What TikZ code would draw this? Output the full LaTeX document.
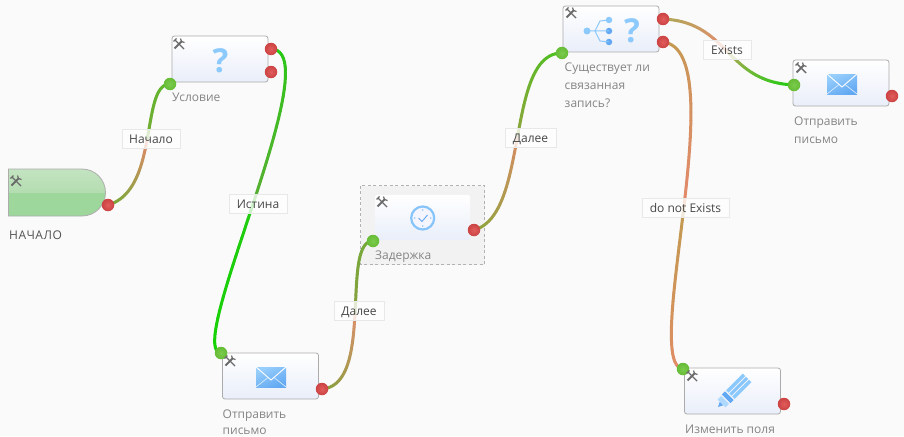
\documentclass[tikz,border=0pt]{standalone}
\usepackage{fontspec}
\setmainfont{Open Sans}
\usetikzlibrary{calc}
\pgfdeclarelayer{bgfill}
\pgfdeclarelayer{conn}
\pgfsetlayers{bgfill,conn,main}
\definecolor{pagebg}{HTML}{FAFAFA}
\definecolor{iconblue}{HTML}{8CC9FC}
\definecolor{icondeep}{HTML}{62A8F2}
\definecolor{boxlow}{HTML}{E9EEF9}
\definecolor{startlow}{HTML}{9DD79B}
\definecolor{startmid}{HTML}{B4DDB1}
\definecolor{starttop}{HTML}{D2EAD0}
\definecolor{redin}{HTML}{E25C5C}
\definecolor{redout}{HTML}{CB4343}
\definecolor{greenin}{HTML}{7ACB4C}
\definecolor{greenout}{HTML}{66BC36}
\pgfdeclareverticalshading{startgrad}{100bp}{color(0bp)=(startlow); color(50bp)=(startlow); color(50bp)=(startmid); color(100bp)=(starttop)}
\tikzset{
  taskbox/.style={draw=black!33,line width=.8pt,rounded corners=2.5pt,minimum width=96pt,minimum height=46pt,inner sep=0pt,top color=white,bottom color=boxlow},
  plainbox/.style={minimum width=95pt,minimum height=45pt,inner sep=0pt,rounded corners=1.5pt,top color=white,bottom color=boxlow},
  redport/.style={circle,minimum size=12.5pt,inner sep=0pt,inner color=redin,outer color=redout},
  greenport/.style={circle,minimum size=12.5pt,inner sep=0pt,inner color=greenin,outer color=greenout},
  caption/.style={anchor=north west,inner sep=0pt,align=left,text=black!48,font=\fontsize{12}{18}\selectfont},
  linklabel/.style={draw=black!9,line width=.8pt,fill=white,fill opacity=.78,text opacity=1,text=black!72,inner sep=0pt,minimum height=19pt,text height=10pt,text depth=1pt,font=\fontsize{12}{14}\selectfont},
  qmark/.style={text=iconblue,inner sep=0pt,font=\fontsize{33}{33}\bfseries\selectfont},
  wrench/.pic={
    \draw[black!58,line width=1.8pt] (-4.5,4.5)--(3,-3);
    \draw[black!58,line width=1.4pt] (-4,-4)--(5,5);
    \draw[black!58,line width=1.2pt] (1.5,-5.5)--(2.5,-2.5)--(5.5,-1.5);
    \draw[black!58,line width=1.2pt] (-5.5,-2.5)--(-2.5,-5.5);
  }
}
\newcommand{\gradconn}[7]{%
  \path (#1.center) .. controls #2 and #3 .. (#4.center)
    foreach \k in {0,...,48}{coordinate[pos=\k/48] (gc\k)};
  \begin{pgfonlayer}{conn}
  \foreach \k [evaluate=\k as \n using int(\k+1)] in {0,...,47}{%
    \ifnum\k<24
      \pgfmathsetmacro\mixv{100-100*\k/23}%
      \draw[line width=3pt,line cap=round,color={#6!\mixv!#5}] (gc\k)--(gc\n);
    \else
      \pgfmathsetmacro\mixv{100-100*(\k-24)/23}%
      \draw[line width=3pt,line cap=round,color={#6!\mixv!#7}] (gc\k)--(gc\n);
    \fi
  }%
  \end{pgfonlayer}%
}
\newcommand{\mailicon}[1]{%
  \begin{scope}[shift={#1}]
    \shade[left color=iconblue!90!white,right color=icondeep,shading angle=25] (-15,-10) rectangle (15,10);
    \draw[white,line width=.9pt] (-15,-10)--(0,3)--(15,-10);
    \draw[white!75!iconblue,line width=.6pt] (-15,10)--(-3,0.5) (15,10)--(3,0.5);
  \end{scope}%
}
\definecolor{cA}{HTML}{E08A68}\definecolor{cB}{HTML}{72AC35}\definecolor{cC}{HTML}{5FB82C}
\definecolor{dA}{HTML}{55B030}\definecolor{dB}{HTML}{22CC11}\definecolor{dC}{HTML}{11D400}
\definecolor{eA}{HTML}{D9906A}\definecolor{eB}{HTML}{85A03C}\definecolor{eC}{HTML}{72AC3A}
\definecolor{fA}{HTML}{D58D62}\definecolor{fB}{HTML}{8CA63C}\definecolor{fC}{HTML}{4CC01E}
\definecolor{gA}{HTML}{E88A70}\definecolor{gB}{HTML}{B0A858}\definecolor{gC}{HTML}{22CC11}
\definecolor{hA}{HTML}{E28A6C}\definecolor{hB}{HTML}{C29A50}\definecolor{hC}{HTML}{E68A6A}
\begin{document}
\begin{tikzpicture}[x=1pt,y=-1pt]
\useasboundingbox (0,0) rectangle (904,436);
\begin{pgfonlayer}{bgfill}
  \fill[pagebg] (0,0) rectangle (904,436);
  \draw[black!30,line width=.7pt,dash pattern=on 3pt off 2.5pt,fill=black!5] (360.5,185.5) rectangle (484.5,264.5);
\end{pgfonlayer}

% start shape
\path[draw=black!32,line width=.8pt,shading=startgrad]
  (8.5,169) -- (82,169) .. controls (95,169) and (105.5,179.5) .. (105.5,192.5)
  .. controls (105.5,205.5) and (95,216) .. (82,216) -- (8.5,216) -- cycle;
\node[minimum width=96pt,minimum height=46pt,inner sep=0pt] (start) at (56,192.5) {};

% boxes
\node[taskbox] (cond) at (220,59) {};
\node[taskbox] (mailA) at (270.5,376) {};
\node[plainbox] (delay) at (422.5,217.5) {};
\node[taskbox] (exist) at (611,29) {};
\node[taskbox] (mailB) at (841,83) {};
\node[taskbox] (edit) at (732.5,391) {};

% captions
\node[anchor=north west,inner sep=0pt,text=black!68,font=\fontsize{12}{18}\selectfont] (startcap) at (9,231) {Н\kern.5ptА\kern.5ptЧ\kern.5ptА\kern.5ptЛ\kern.5ptО};
\node[caption] (condcap) at (172,93) {Условие};
\node[caption,font=\fontsize{12}{16.5}\selectfont] (mailAcap) at (222.5,409.5) {Отправить\\письмо};
\node[caption] (delaycap) at (375,250.5) {Задержка};
\node[caption] (existcap) at (564.5,62.5) {Существует ли\\связанная\\запись?};
\node[caption] (mailBcap) at (794,116.5) {Отправить\\письмо};
\node[caption] (editcap) at (685,424.5) {Изменить поля};

% ports
\node[redport] (pStart) at (108,205) {};
\node[greenport] (inCond) at (170,84) {};
\node[redport] (outCondA) at (271,49) {};
\node[redport] (outCondB) at (271,72) {};
\node[greenport] (inMailA) at (221,353) {};
\node[redport] (outMailA) at (322,389) {};
\node[greenport] (inDelay) at (373,241) {};
\node[redport] (outDelay) at (474,230) {};
\node[greenport] (inExist) at (562,53) {};
\node[redport] (outExistA) at (663,19) {};
\node[redport] (outExistB) at (663,42) {};
\node[greenport] (inMailB) at (794,85) {};
\node[redport] (outMailB) at (892,96) {};
\node[greenport] (inEdit) at (683,369) {};
\node[redport] (outEdit) at (784,404) {};

% connectors
\gradconn{pStart}{+(52,-15)}{+(-30,0)}{inCond}{cA}{cB}{cC}
\gradconn{outCondA}{+(60,1)}{+(-38,-3)}{inMailA}{dA}{dB}{dC}
\gradconn{outMailA}{+(53,-4)}{+(-33,0)}{inDelay}{eA}{eB}{eC}
\gradconn{outDelay}{+(56,-15)}{+(-57,0)}{inExist}{fA}{fB}{fC}
\gradconn{outExistA}{+(67,3)}{+(-69,-3)}{inMailB}{gA}{gB}{gC}
\gradconn{outExistB}{+(72,8)}{+(-43,-4)}{inEdit}{hA}{hB}{hC}

% link labels
\node[linklabel,minimum width=58pt] (lNach) at (151,139) {Начало};
\node[linklabel,minimum width=58pt] (lIst) at (258,204) {Истина};
\node[linklabel,minimum width=50pt] (lDalA) at (359,310.5) {Далее};
\node[linklabel,minimum width=51pt] (lDalB) at (530.5,138) {Далее};
\node[linklabel,minimum width=48pt] (lEx) at (727,50) {Exists};
\node[linklabel,minimum width=87pt] (lNot) at (685.5,208) {do not Exists};

% question icons
\node[qmark] (qA) at (220.5,60.5) {?};
\node[qmark] (qB) at (632,30.5) {?};

% tree icon
\node[circle,fill=iconblue,minimum size=7pt,inner sep=0pt] (tr) at (587,31) {};
\node[circle,fill=iconblue,minimum size=6.5pt,inner sep=0pt] (t1) at (609,20) {};
\node[circle,fill=icondeep,minimum size=6.5pt,inner sep=0pt] (t2) at (609,31) {};
\node[circle,fill=icondeep,minimum size=6.5pt,inner sep=0pt] (t3) at (609,42) {};
\draw[iconblue,line width=1pt] (tr.center)--(t2.center) (595,31)--(600,21)--(t1.center) (595,31)--(600,41)--(t3.center);

% mail icons
\mailicon{(271,377)}
\mailicon{(842,84)}

% clock icon
\node[circle,minimum size=23pt,inner sep=0pt,fill=blue!4!white,draw=iconblue!85!icondeep,line width=2.2pt] (clk) at (422.7,218) {};
\draw[icondeep,line width=.9pt] (418.5,218)--(422,221.5)--(427.5,215);
\foreach \a in {0,90,180,270}{\fill[iconblue] ($(clk.center)+(\a:8)$) circle (.8);}

% pencil icon
\begin{scope}[shift={(718,407)},x={(.71pt,.71pt)},y={(.71pt,-.71pt)}]
  \fill[icondeep] (0,0)--(5,-2.5)--(5,2.5)--cycle;
  \fill[iconblue!70!white] (5,-5.5)--(10,-5.5)--(10,5.5)--(5,5.5)--cycle;
  \fill[icondeep] (11.5,-6)--(16,-6)--(16,6)--(11.5,6)--cycle;
  \fill[iconblue] (17.5,-6)--(41,-6)--(41,-2.5)--(17.5,-2.5)--cycle;
  \fill[iconblue!85!icondeep] (17.5,-1.5)--(41,-1.5)--(41,1.5)--(17.5,1.5)--cycle;
  \fill[iconblue] (17.5,2.5)--(41,2.5)--(41,6)--(17.5,6)--cycle;
\end{scope}

% wrenches
\pic at (16,181) {wrench};
\pic at (179,44) {wrench};
\pic at (230,361) {wrench};
\pic at (382,202) {wrench};
\pic at (571,13) {wrench};
\pic at (801,68) {wrench};
\pic at (692,376) {wrench};
\end{tikzpicture}
\end{document}
